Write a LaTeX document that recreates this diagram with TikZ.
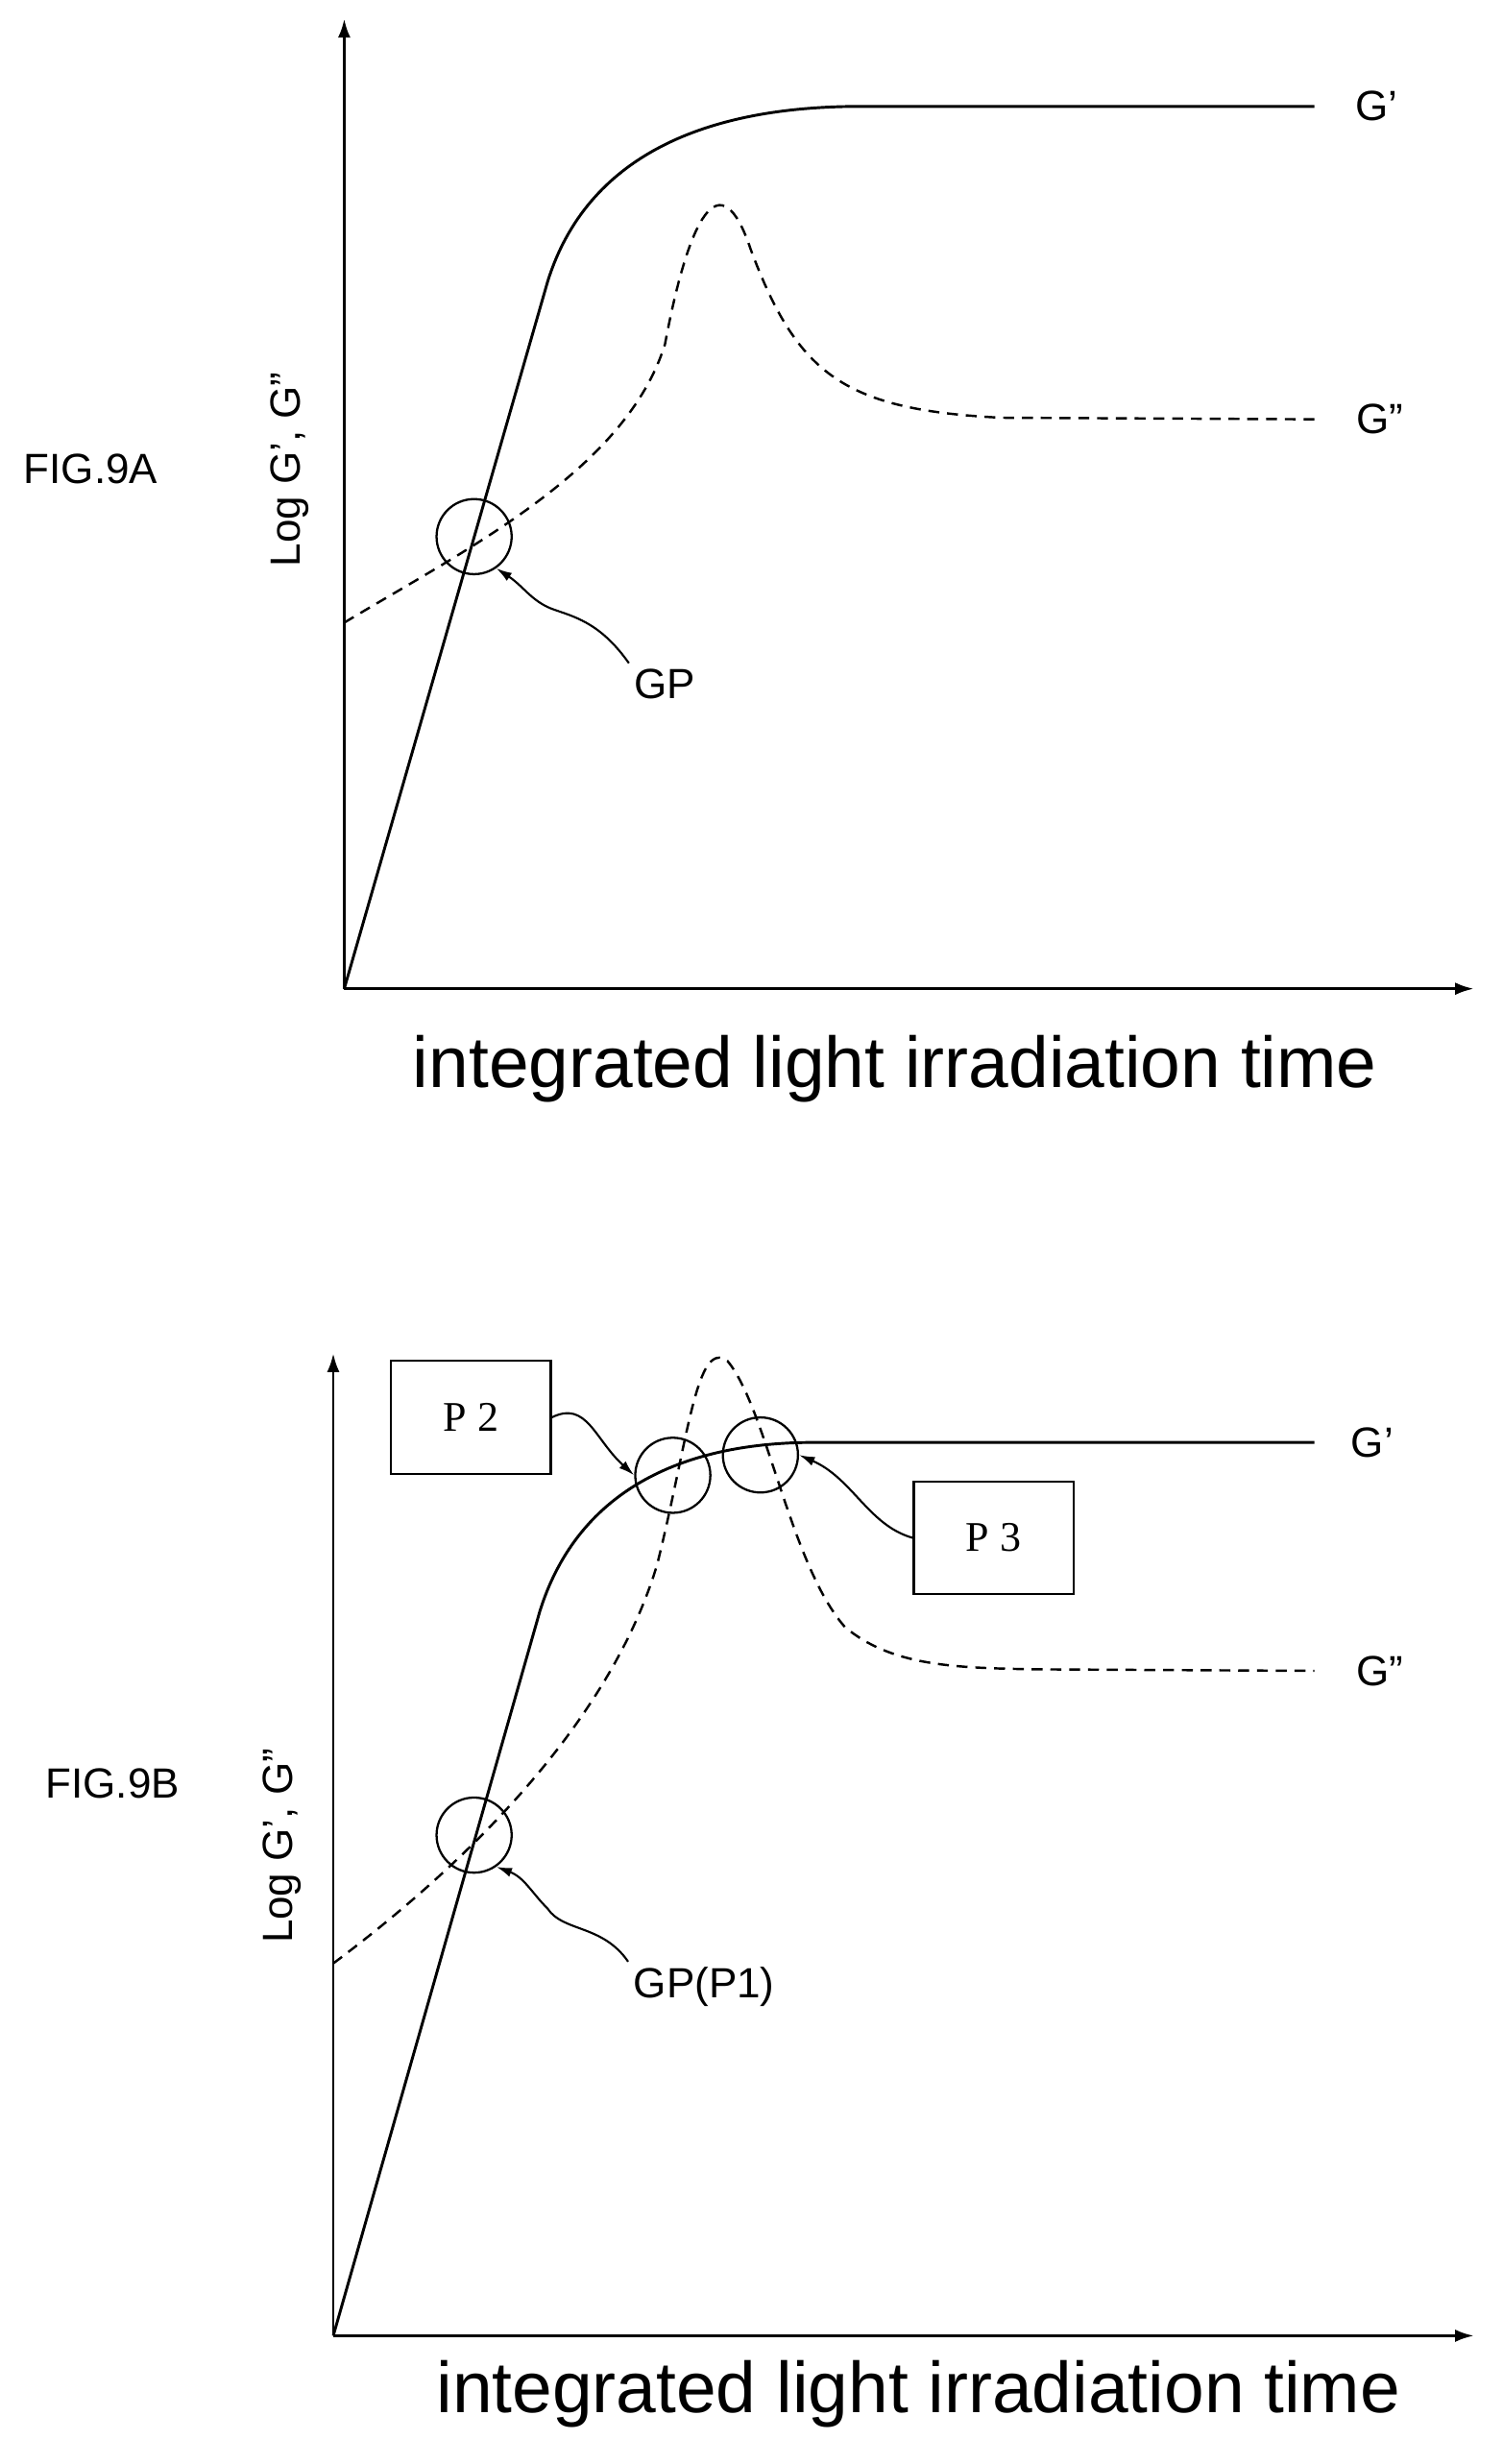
\documentclass[tikz,border=0pt]{standalone}
\usepackage{fontspec}
\setmainfont{Liberation Sans}
\newfontfamily\serifp{Liberation Serif}
\usetikzlibrary{arrows.meta}
\begin{document}
\begin{tikzpicture}[x=1pt,y=-1pt,
 ax/.style={line width=1.8pt,-{Latex[length=12pt,width=8pt]}},
 cur/.style={line width=1.8pt},
 dsh/.style={line width=1.5pt,dash pattern=on 7pt off 5pt},
 circ/.style={circle,draw,line width=1.4pt,minimum size=48pt,inner sep=0pt},
 lab/.style={font=\fontsize{27}{31}\selectfont},
 big/.style={font=\fontsize{46}{52}\selectfont},
 arr/.style={line width=1.3pt,-{Latex[length=10pt,width=6pt]}},
 box/.style={draw,line width=1.3pt,minimum width=102pt,minimum height=72pt,font=\serifp\fontsize{27}{31}\selectfont}]
\useasboundingbox (0,0) rectangle (960,1575);
% FIG 9A
\coordinate (oA) at (220,632);
\coordinate (yA) at (220,12);
\coordinate (xA) at (942,632);
\draw[ax] (oA) -- (yA);
\draw[ax] (oA) -- (xA);
\draw[cur] (oA) -- (350,180) .. controls (375,100) and (450,68) .. (550,68) -- (840,68);
\draw[dsh] (220,398) .. controls (300,350) and (400,300) .. (425,220) .. controls (440,140) and (460,100) .. (480,160) .. controls (510,240) and (540,262) .. (640,267) -- (840,268);
\node[lab] (gA1) at (880,68) {G’};
\node[lab] (gA2) at (882,268) {G”};
\node[circ] (cA) at (303,343) {};
\node[lab] (gp) at (425,437) {GP};
\draw[arr] (gp.north west) .. controls (385,400) and (370,395) .. (355,390) .. controls (340,385) and (335,375) .. (cA.-55);
\node[lab,rotate=90] (ylA) at (185,300) {Log G’, G”};
\node[lab] (fA) at (58,300) {FIG.9A};
\node[big] (tA) at (572,683) {integrated light irradiation time};
% FIG 9B
\coordinate (oB) at (213,1493);
\coordinate (yB) at (213,865);
\coordinate (xB) at (942,1493);
\draw[ax] (oB) -- (yB);
\draw[ax] (oB) -- (xB);
\draw[cur] (oB) -- (345,1030) .. controls (370,950) and (440,922) .. (520,922) -- (840,922);
\draw[dsh] (213,1255) .. controls (300,1190) and (390,1100) .. (420,1000) .. controls (440,920) and (445,855) .. (465,870) .. controls (490,900) and (505,1000) .. (540,1040) .. controls (570,1065) and (610,1066) .. (660,1067) -- (840,1068);
\node[lab] (gB1) at (877,922) {G’};
\node[lab] (gB2) at (882,1068) {G”};
\node[circ] (c2) at (430,943) {};
\node[circ] (c3) at (486,930) {};
\node[circ] (c1) at (303,1173) {};
\node[box] (p2) at (301,906) {P 2};
\node[box] (p3) at (635,983) {P 3};
\node[lab] (gp1) at (450,1270) {GP(P1)};
\draw[arr] (p2.east) .. controls (375,895) and (380,920) .. (c2.west);
\draw[arr] (p3.west) .. controls (555,975) and (545,945) .. (c3.east);
\draw[arr] (gp1.north west) .. controls (385,1230) and (360,1235) .. (350,1220) .. controls (340,1210) and (335,1200) .. (c1.-55);
\node[lab,rotate=90] (ylB) at (180,1180) {Log G’, G”};
\node[lab] (fB) at (72,1140) {FIG.9B};
\node[big] (tB) at (587,1530) {integrated light irradiation time};
\end{tikzpicture}
\end{document}
